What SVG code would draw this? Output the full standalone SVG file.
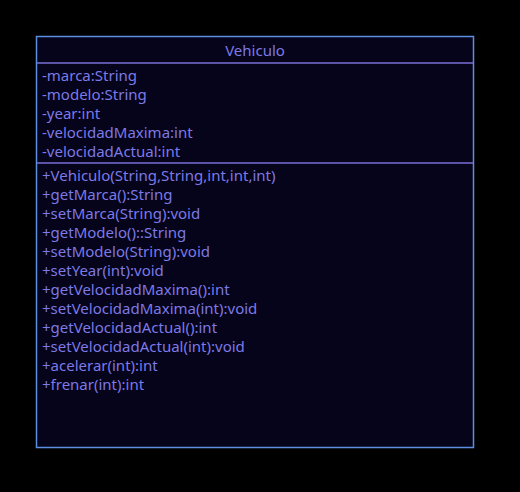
<svg xmlns="http://www.w3.org/2000/svg" width="520" height="492" viewBox="0 0 520 492">
<style>
.t{font-family:"Noto Sans","Liberation Sans",sans-serif;font-size:15px;fill:#7d79e6}
.d{stroke:#7a6fd6;stroke-width:1.5}
</style>
<rect x="0" y="0" width="520" height="492" fill="#000000"/>
<g id="Vehiculo">
<rect x="36.5" y="36.5" width="437" height="411" fill="#05041a" stroke="#5d8fe0" stroke-width="1.5"/>
<line class="d" x1="37" y1="63" x2="473" y2="63"/>
<line class="d" x1="37" y1="163" x2="473" y2="163"/>
<text class="t" x="255" y="56" text-anchor="middle">Vehiculo</text>
<text class="t" x="42" y="81">-marca:String</text>
<text class="t" x="42" y="100">-modelo:String</text>
<text class="t" x="42" y="119">-year:int</text>
<text class="t" x="42" y="138">-velocidadMaxima:int</text>
<text class="t" x="42" y="157">-velocidadActual:int</text>
<text class="t" x="42" y="181">+Vehiculo(String,String,int,int,int)</text>
<text class="t" x="42" y="200">+getMarca():String</text>
<text class="t" x="42" y="219">+setMarca(String):void</text>
<text class="t" x="42" y="238">+getModelo()::String</text>
<text class="t" x="42" y="257">+setModelo(String):void</text>
<text class="t" x="42" y="276">+setYear(int):void</text>
<text class="t" x="42" y="295">+getVelocidadMaxima():int</text>
<text class="t" x="42" y="314">+setVelocidadMaxima(int):void</text>
<text class="t" x="42" y="333">+getVelocidadActual():int</text>
<text class="t" x="42" y="352">+setVelocidadActual(int):void</text>
<text class="t" x="42" y="371">+acelerar(int):int</text>
<text class="t" x="42" y="390">+frenar(int):int</text>
</g>
<g id="connectors"/>
</svg>
